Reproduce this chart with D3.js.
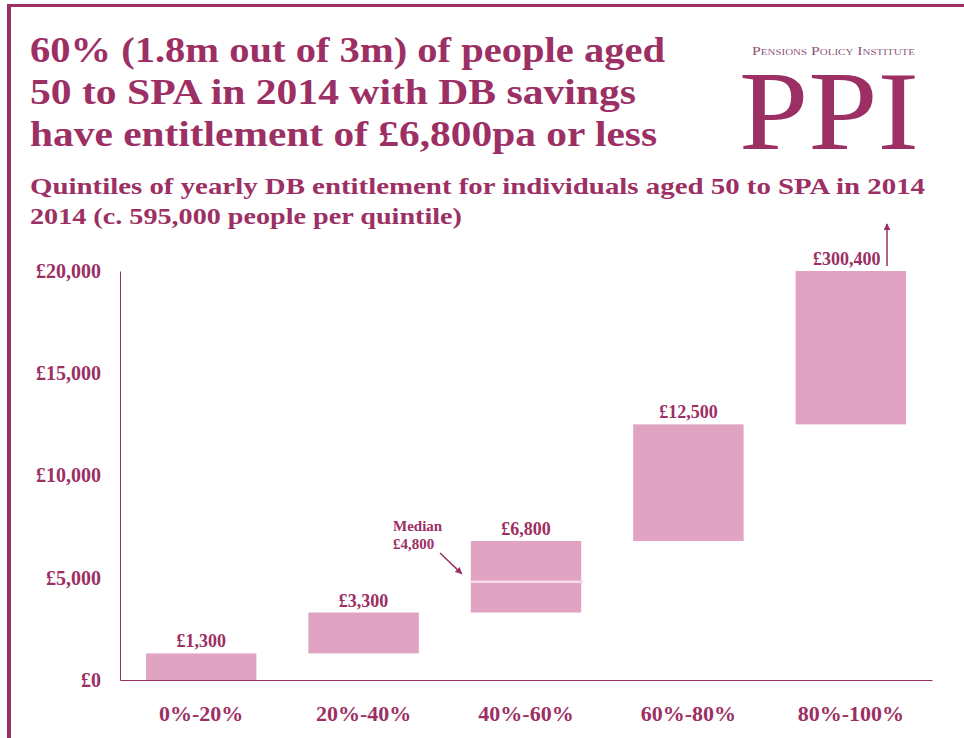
<!DOCTYPE html>
<html>
<head>
<meta charset="utf-8">
<script src="https://cdn.jsdelivr.net/npm/d3@7"></script>
<style>
  html, body { margin: 0; padding: 0; background: #fff; }
  svg { display: block; }
  text { font-family: "Liberation Serif", "DejaVu Serif", serif; }
</style>
</head>
<body>
<svg id="chart" width="964" height="738"></svg>
<script>
// Quintile bands of yearly DB entitlement (lower and upper bounds, £ per year)
const categories = ["0%-20%", "20%-40%", "40%-60%", "60%-80%", "80%-100%"];
const lowerBounds = [0, 1300, 3300, 6800, 12500];
const upperBounds = [1300, 3300, 6800, 12500, 300400];
const upperLabels = ["£1,300", "£3,300", "£6,800", "£12,500", "£300,400"];
const medianValue = 4800;
const medianCategory = "40%-60%";
const yTicks = [0, 5000, 10000, 15000, 20000];
const yTickLabels = ["£0", "£5,000", "£10,000", "£15,000", "£20,000"];
const titleLines = [
  "60% (1.8m out of 3m) of people aged",
  "50 to SPA in 2014 with DB savings",
  "have entitlement of £6,800pa or less"
];
const subtitleLines = [
  "Quintiles of yearly DB entitlement for individuals aged 50 to SPA in 2014",
  "2014 (c. 595,000 people per quintile)"
];

const purple = "#9c2f64";
const barFill = "#e0a3c2";
const yMax = 20000;

const svg = d3.select("#chart");

svg.append("defs").append("marker")
  .attr("id", "arrowhead")
  .attr("viewBox", "0 0 10 10")
  .attr("refX", 9).attr("refY", 5)
  .attr("markerWidth", 7).attr("markerHeight", 7)
  .attr("markerUnits", "userSpaceOnUse")
  .attr("orient", "auto")
  .append("path").attr("d", "M0,0 L10,5 L0,10 z").attr("fill", purple);

// Frame lines along the top and left
svg.append("rect").attr("x", 7).attr("y", 4).attr("width", 957).attr("height", 3).attr("fill", purple);
svg.append("rect").attr("x", 7).attr("y", 4).attr("width", 4).attr("height", 734).attr("fill", purple);

// Headline
const titleWidths = [635, 606, 627];
svg.append("g").selectAll("text").data(titleLines).join("text")
  .attr("x", 30).attr("y", (d, i) => 62 + i * 42)
  .attr("font-size", 36).attr("font-weight", "bold").attr("fill", purple)
  .attr("textLength", (d, i) => titleWidths[i]).attr("lengthAdjust", "spacingAndGlyphs")
  .text(d => d);

// Subheading
const subWidths = [895, 432];
svg.append("g").selectAll("text").data(subtitleLines).join("text")
  .attr("x", 30).attr("y", (d, i) => 194 + i * 30)
  .attr("font-size", 23).attr("font-weight", "bold").attr("fill", purple)
  .attr("textLength", (d, i) => subWidths[i]).attr("lengthAdjust", "spacingAndGlyphs")
  .text(d => d);

// Logo: small-caps institute name over the large monogram
const logo = svg.append("g");
logo.append("text").attr("x", 752).attr("y", 55)
  .attr("fill", "#8e5478").attr("font-size", 11.5)
  .style("font-variant", "small-caps")
  .attr("textLength", 163).attr("lengthAdjust", "spacingAndGlyphs")
  .text("Pensions Policy Institute");

logo.append("text").attr("x", 739).attr("y", 149)
  .attr("font-size", 112).attr("fill", purple)
  .attr("textLength", 180).attr("lengthAdjust", "spacingAndGlyphs")
  .text("PPI");

// Scales
const x = d3.scaleBand().domain(categories).range([120, 932]).paddingInner(0.32).paddingOuter(0.16);
const y = d3.scaleLinear().domain([0, yMax]).range([680, 271]);

// Axes
const yAxis = svg.append("g").attr("transform", "translate(120,0)")
  .call(d3.axisLeft(y).tickValues(yTicks).tickSize(0).tickPadding(19)
    .tickFormat((d, i) => yTickLabels[i]));
yAxis.select(".domain").attr("stroke", purple).attr("stroke-width", 1);
yAxis.selectAll("text").attr("fill", purple).attr("font-size", 20).attr("font-weight", "bold")
  .style("font-family", "'Liberation Serif', serif");

const xAxis = svg.append("g").attr("transform", `translate(0,${y(0)})`)
  .call(d3.axisBottom(x).tickSize(0).tickPadding(25).tickSizeOuter(0));
xAxis.select(".domain").attr("stroke", purple).attr("stroke-width", 1);
xAxis.selectAll("text").attr("fill", purple).attr("font-size", 22).attr("font-weight", "bold")
  .style("font-family", "'Liberation Serif', serif");

// Floating bars, each spanning one quintile band
const bars = categories.map((c, i) => ({
  cat: c, lo: lowerBounds[i], hi: upperBounds[i], label: upperLabels[i]
}));

svg.append("g").selectAll("rect").data(bars).join("rect")
  .attr("x", d => x(d.cat))
  .attr("width", x.bandwidth())
  .attr("y", d => y(Math.min(d.hi, yMax)))
  .attr("height", d => y(d.lo) - y(Math.min(d.hi, yMax)))
  .attr("fill", barFill);

// Upper-bound labels
svg.append("g").selectAll("text").data(bars).join("text")
  .attr("x", d => x(d.cat) + x.bandwidth() / 2 - (d.hi > yMax ? 4 : 0))
  .attr("y", d => y(Math.min(d.hi, yMax)) - 6)
  .attr("text-anchor", "middle")
  .attr("font-size", 18).attr("font-weight", "bold").attr("fill", purple)
  .text(d => d.label);

// Off-scale marker on the top quintile
const topBar = bars[bars.length - 1];
const arrowX = x(topBar.cat) + x.bandwidth() - 19;
svg.append("line")
  .attr("x1", arrowX).attr("x2", arrowX)
  .attr("y1", y(yMax) - 5).attr("y2", y(yMax) - 47)
  .attr("stroke", purple).attr("stroke-width", 1.5)
  .attr("marker-end", "url(#arrowhead)");

// Median line within the middle quintile
svg.append("line")
  .attr("x1", x(medianCategory)).attr("x2", x(medianCategory) + x.bandwidth() + 2)
  .attr("y1", y(medianValue)).attr("y2", y(medianValue))
  .attr("stroke", "#f6dbe8").attr("stroke-width", 2.5);

const ann = svg.append("g");
ann.append("text").attr("x", 393).attr("y", 531)
  .attr("font-size", 15).attr("font-weight", "bold").attr("fill", purple).text("Median");
ann.append("text").attr("x", 393).attr("y", 549)
  .attr("font-size", 15).attr("font-weight", "bold").attr("fill", purple).text("£4,800");
ann.append("line")
  .attr("x1", 440).attr("y1", 553)
  .attr("x2", x(medianCategory) - 9).attr("y2", y(medianValue) - 8)
  .attr("stroke", purple).attr("stroke-width", 1.5)
  .attr("marker-end", "url(#arrowhead)");
</script>
</body>
</html>
